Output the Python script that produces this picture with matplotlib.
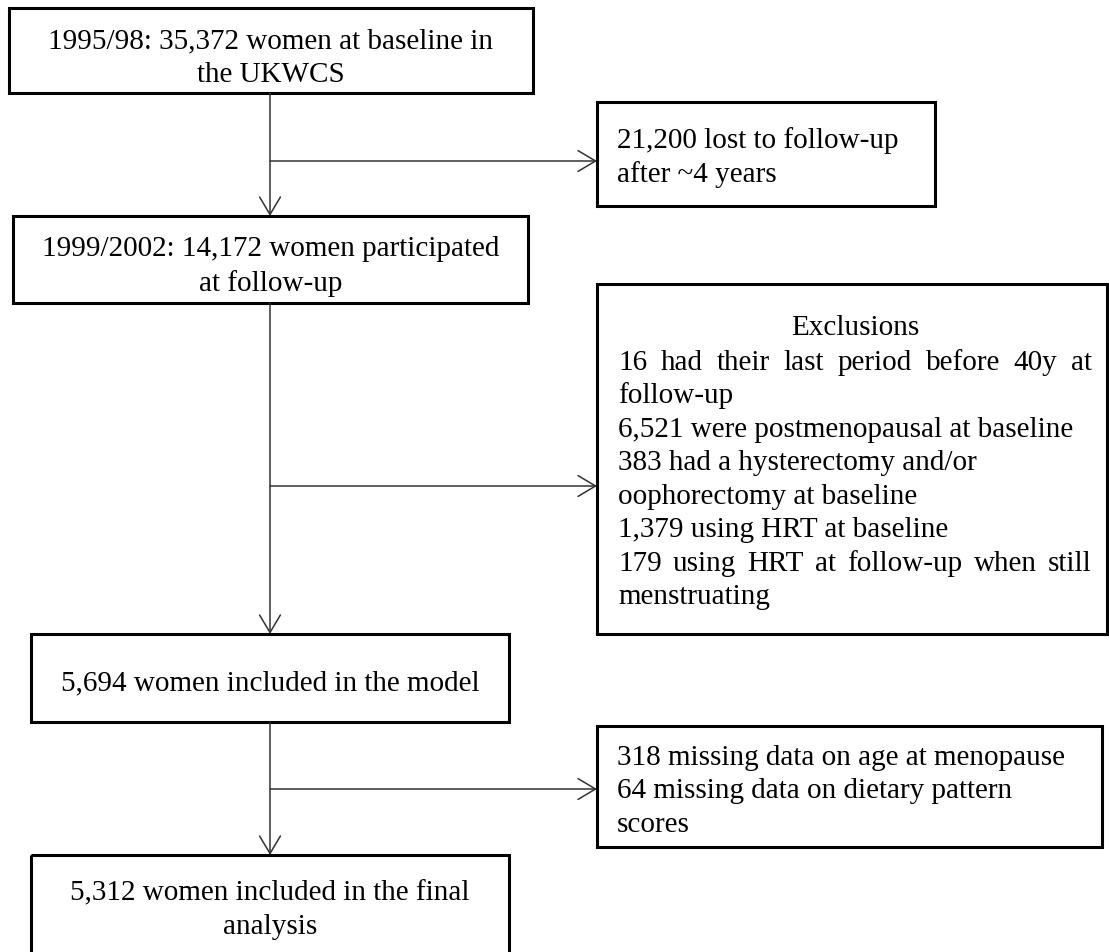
import matplotlib
matplotlib.use("Agg")
import matplotlib.pyplot as plt
from matplotlib.patches import Rectangle

plt.rcParams['font.family'] = ['Liberation Serif', 'DejaVu Serif']

# flow chart texts
main_steps = [
    ["1995/98: 35,372 women at baseline in", "the UKWCS"],
    ["1999/2002: 14,172 women participated", "at follow-up"],
    ["5,694 women included in the model"],
    ["5,312 women included in the final", "analysis"],
]
lost_lines = ["21,200 lost to follow-up", "after ~4 years"]
exclusion_title = "Exclusions"
exclusion_lines = [
    "16 had their last period before 40y at",
    "follow-up",
    "6,521 were postmenopausal at baseline",
    "383 had a hysterectomy and/or",
    "oophorectomy at baseline",
    "1,379 using HRT at baseline",
    "179 using HRT at follow-up when still",
    "menstruating",
]
exclusion_justified = [True, False, False, False, False, False, True, False]
missing_lines = ["318 missing data on age at menopause",
                 "64 missing data on dietary pattern",
                 "scores"]

W, H = 1109, 953
fig = plt.figure(figsize=(W / 100, H / 100), dpi=100)
ax = fig.add_axes([0, 0, 1, 1])
ax.set_xlim(0, W)
ax.set_ylim(H, 0)
ax.axis('off')

FS = 21
box_lw = 2.2
line_col = '#333333'
renderer = fig.canvas.get_renderer()


def box(x0, y0, x1, y1):
    ax.add_patch(Rectangle((x0, y0), x1 - x0, y1 - y0, fill=False,
                           edgecolor='black', lw=box_lw))


def arrow(x0, y0, x1, y1):
    ax.annotate('', xy=(x1, y1), xytext=(x0, y0),
                arrowprops=dict(arrowstyle='->,head_length=0.42,head_width=0.25',
                                mutation_scale=30, lw=1.1, color=line_col,
                                shrinkA=0, shrinkB=0))


def put_line(text, x0, x1, y, justify=False):
    if not justify:
        ax.text(x0, y, text, fontsize=FS, va='baseline', ha='left')
        return
    words = text.split()
    objs = [ax.text(0, y, w, fontsize=FS, va='baseline', ha='left') for w in words]
    widths = [t.get_window_extent(renderer).width for t in objs]
    gap = (x1 - x0 - sum(widths)) / (len(words) - 1)
    x = x0
    for t, w in zip(objs, widths):
        t.set_x(x)
        x += w + gap


# main column boxes
main_boxes = [(9, 9, 533, 94), (13, 217, 528, 304), (31, 635, 509, 723), (31, 856, 509, 970)]
main_baselines = [[48, 82], [256, 291], [690], [900, 934]]
for (x0, y0, x1, y1), lines, bases in zip(main_boxes, main_steps, main_baselines):
    box(x0, y0, x1, y1)
    for txt, b in zip(lines, bases):
        ax.text((x0 + x1) / 2, b, txt, fontsize=FS, ha='center', va='baseline')

# side boxes
box(597, 103, 935, 207)
for txt, b in zip(lost_lines, [148, 182]):
    put_line(txt, 617, 920, b)

box(597, 285, 1107, 635)
ax.text((618 + 1092) / 2, 335, exclusion_title, fontsize=FS, ha='center', va='baseline')
for i, (txt, j) in enumerate(zip(exclusion_lines, exclusion_justified)):
    put_line(txt, 618, 1092, 370 + 33.5 * i, justify=j)

box(597, 727, 1102, 848)
for i, txt in enumerate(missing_lines):
    put_line(txt, 617, 1090, 765 + 33.5 * i)

# connectors
cx = 270
for (top, bottom, branch_y) in [(94, 217, 162), (304, 635, 487), (723, 856, 790)]:
    arrow(cx, top, cx, bottom)
    arrow(cx, branch_y, 597, branch_y)

fig.savefig('out.png', dpi=100)
